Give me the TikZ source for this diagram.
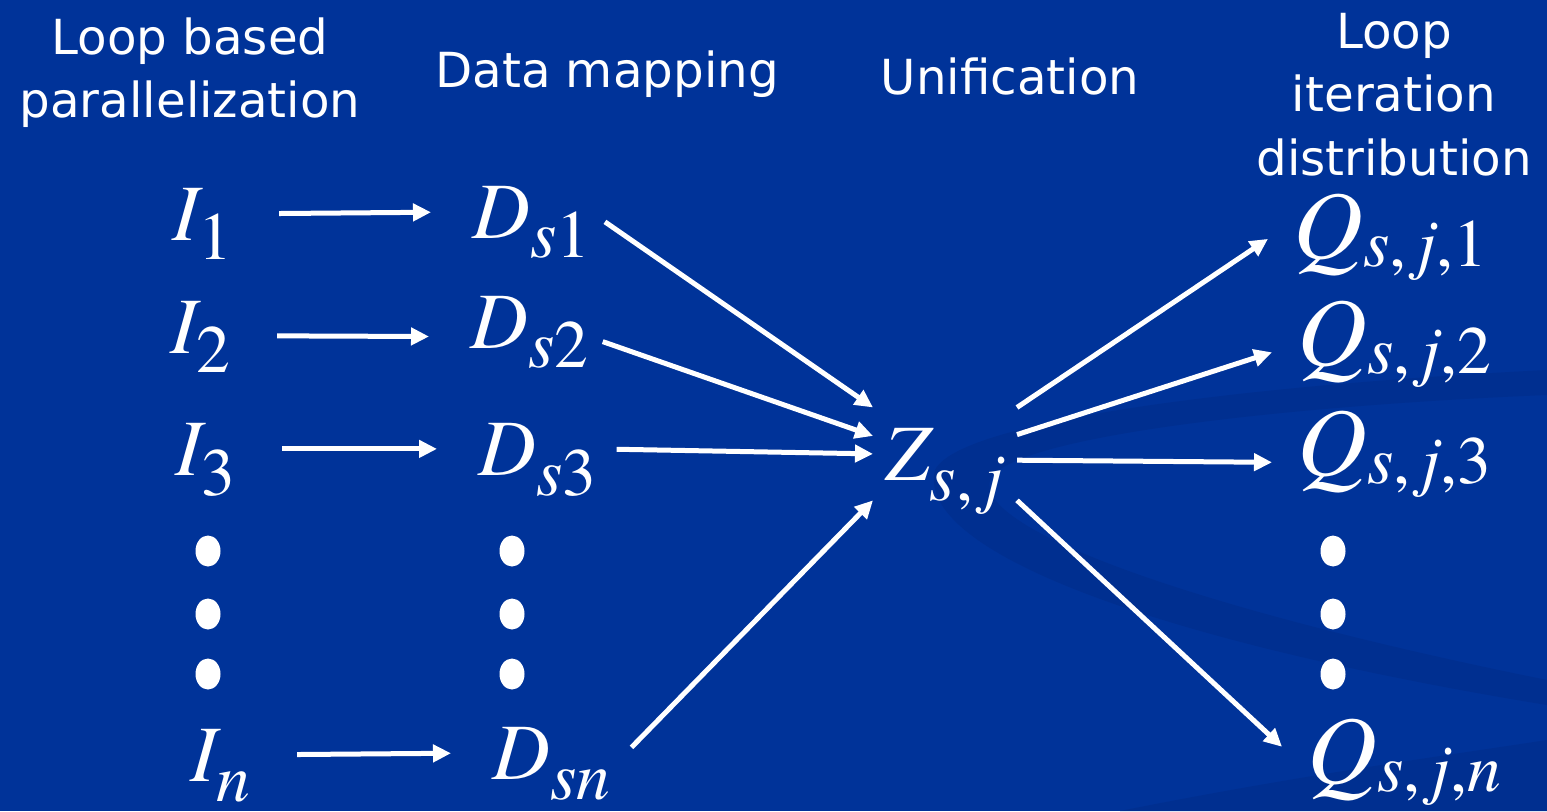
\documentclass[tikz,border=0pt]{standalone}
\usepackage{fontspec}
\setmainfont{texgyretermes}[Extension=.otf,UprightFont=*-regular,ItalicFont=*-italic,BoldFont=*-bold]
\newfontfamily\headfont{DejaVu Sans}
\usetikzlibrary{arrows.meta}
\definecolor{slide}{RGB}{0,51,153}
\definecolor{slidedark}{RGB}{0,47,144}
% letter with a large, lowered subscript
\newcommand{\ltr}[2]{{\fontsize{45.5}{50}\selectfont\itshape #1\raisebox{-0.4cm}[0pt][0pt]{\fontsize{38.5}{40}\selectfont\upshape #2}}}
% the Q labels: bigger letter, subscript lowered less
\newcommand{\qltr}[1]{{\fontsize{55}{60}\selectfont\itshape Q\raisebox{-0.16cm}[0pt][0pt]{\fontsize{38.5}{40}\selectfont\upshape #1}}}

\begin{document}
\begin{tikzpicture}[x=0.02cm,y=-0.02cm,
  every node/.style={text=white},
  head/.style={font=\headfont\fontsize{27.5}{36}\selectfont,align=center,anchor=north,inner sep=0pt},
  lbl/.style={inner sep=0pt,anchor=base west},
  zbox/.style={inner xsep=0.24cm,inner ysep=0.4cm,anchor=base west},
  qbox/.style={inner xsep=0.5cm,inner ysep=0pt,anchor=base west},
  arr/.style={white,line width=0.1cm,-{Triangle[length=0.36cm,width=0.34cm]}},
  hop/.style={arr,shorten <=0.92cm,shorten >=0.82cm}]
  \useasboundingbox (0,0) rectangle (1547,811);
  \fill[slide] (0,0) rectangle (1547,811);
  % background swooshes
  \fill[slidedark] (935,470) .. controls (960,420) and (1250,385) .. (1547,370)
    -- (1547,395) .. controls (1300,405) and (1010,435) .. (990,480)
    .. controls (975,530) and (1200,610) .. (1547,680)
    -- (1547,705) .. controls (1150,640) and (915,550) .. (935,470) -- cycle;
  \fill[slidedark] (1120,811) .. controls (1300,775) and (1450,755) .. (1547,740) -- (1547,811) -- cycle;

  % column heads
  \node[head] (hpar) at (190,17) {Loop based\\parallelization};
  \node[head] (hmap) at (607,50) {Data mapping};
  \node[head] (huni) at (1010,57) {Unification};
  \node[head] (hdis) at (1394,13) {Loop\\iteration\\distribution};

  % iterations
  \node[lbl] (I1) at (172,240) {\ltr{I}{1}};
  \node[lbl] (I2) at (170,353) {\ltr{I}{2}};
  \node[lbl] (I3) at (175,475) {\ltr{I}{3}};
  \node[lbl] (In) at (190,781) {\ltr{I}{\textit{n}}};
  % data
  \node[lbl] (Ds1) at (472,238) {\ltr{D}{\textit{s}1}};
  \node[lbl] (Ds2) at (470,348) {\ltr{D}{\textit{s}2}};
  \node[lbl] (Ds3) at (478,475) {\ltr{D}{\textit{s}3}};
  \node[lbl] (Dsn) at (492,779) {\ltr{D}{\textit{sn}}};
  % unified
  \node[zbox] (Z) at (873,480) {\ltr{Z}{\textit{s},\,\textit{j}}};
  % distributed
  \node[qbox] (Q1) at (1268,258) {\qltr{\textit{s},\,\textit{j},1}};
  \node[qbox] (Q2) at (1272,365) {\qltr{\textit{s},\,\textit{j},2}};
  \node[qbox] (Q3) at (1272,475) {\qltr{\textit{s},\,\textit{j},3}};
  \node[qbox] (Qn) at (1282,783) {\qltr{\textit{s},\,\textit{j},\textit{n}}};

  \foreach \x in {208,512,1333}
    \foreach \y in {551,614,674}
      \fill[white] (\x,\y) ellipse (0.25cm and 0.31cm);

  \draw[hop] (I1.east) -- (Ds1.west);
  \draw[hop] (I2.-16) -- (Ds2.194);
  \draw[hop] (I3.east) -- (Ds3.west);
  \draw[hop] (In.east) -- (Dsn.west);

  \draw[arr,shorten <=0.35cm] (Ds1.east) -- (Z.north west);
  \draw[arr,shorten <=0.3cm] (Ds2.-14) -- (Z.166);
  \draw[arr,shorten <=0.4cm] (Ds3.east) -- (Z.west);
  \draw[arr,shorten <=0.6cm] (Dsn.-15) -- (Z.south west);

  \draw[arr] (Z.north east) -- (Q1.182);
  \draw[arr] (Z.15) -- (Q2.185);
  \draw[arr] (Z.-5) -- (Q3.185);
  \draw[arr] (Z.south east) -- (Qn.174);
\end{tikzpicture}
\end{document}
